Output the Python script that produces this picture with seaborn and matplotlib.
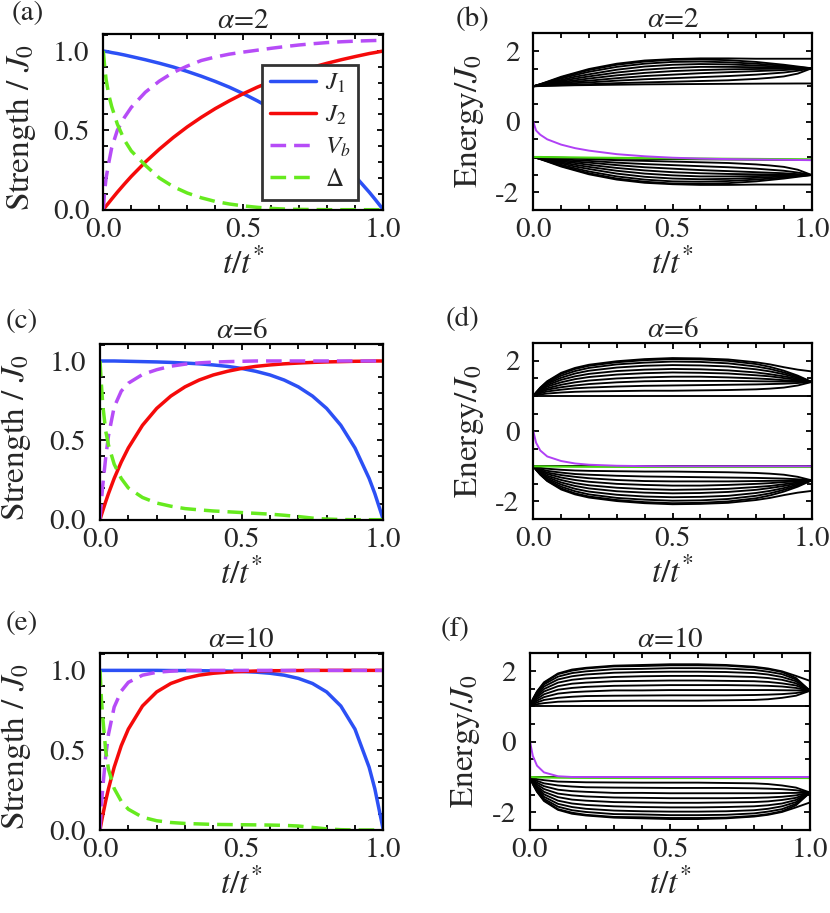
import matplotlib
matplotlib.use("Agg")
import matplotlib.pyplot as plt
import seaborn as sns
import pandas as pd
from matplotlib.ticker import MultipleLocator, FormatStrFormatter

# ---------------- data ----------------
tS = [0, 0.005, 0.01, 0.02, 0.03, 0.05, 0.075, 0.1, 0.15, 0.2, 0.25, 0.3, 0.35,
      0.4, 0.45, 0.5, 0.55, 0.6, 0.65, 0.7, 0.75, 0.8, 0.85, 0.9, 0.95, 0.97, 1.0]

# alpha = 2
J1_a2 = [1.0, 0.998, 0.997, 0.994, 0.990, 0.984, 0.975, 0.965, 0.945, 0.923, 0.899, 0.871, 0.841,
         0.808, 0.772, 0.731, 0.686, 0.637, 0.582, 0.522, 0.455, 0.381, 0.300, 0.210, 0.110, 0.067, 0.0]
J2_a2 = [0.0, 0.012, 0.023, 0.045, 0.067, 0.110, 0.161, 0.210, 0.300, 0.381, 0.455, 0.522, 0.582,
         0.637, 0.686, 0.731, 0.772, 0.808, 0.841, 0.871, 0.899, 0.923, 0.945, 0.965, 0.984, 0.990, 1.0]
Vb_a2 = [0.0, 0.12, 0.20, 0.30, 0.39, 0.50, 0.58, 0.645, 0.74, 0.81, 0.865, 0.905, 0.94,
         0.962, 0.98, 0.993, 1.005, 1.017, 1.028, 1.038, 1.046, 1.053, 1.058, 1.062, 1.065, 1.066, 1.067]
D_a2 = [1.0, 0.90, 0.82, 0.72, 0.65, 0.54, 0.44, 0.37, 0.28, 0.20, 0.145, 0.105, 0.075,
        0.052, 0.036, 0.024, 0.015, 0.008, 0.004, 0.002, 0.001, 0.0, 0.0, 0.0, 0.0, 0.0, 0.0]

# alpha = 6
J1_a6 = [1.0, 1.0, 1.0, 1.0, 1.0, 1.0, 0.999, 0.998, 0.996, 0.994, 0.991, 0.987, 0.982,
         0.975, 0.966, 0.953, 0.935, 0.912, 0.880, 0.837, 0.779, 0.701, 0.595, 0.452, 0.260, 0.165, 0.0]
J2_a6 = [0.0, 0.030, 0.058, 0.113, 0.165, 0.260, 0.363, 0.452, 0.595, 0.701, 0.779, 0.837, 0.880,
         0.912, 0.935, 0.953, 0.966, 0.975, 0.982, 0.987, 0.991, 0.994, 0.996, 0.998, 0.999, 1.0, 1.0]
Vb_a6 = [0.0, 0.12, 0.22, 0.39, 0.53, 0.71, 0.81, 0.86, 0.915, 0.945, 0.967, 0.98, 0.988,
         0.993, 0.996, 0.998, 1.0, 1.0, 1.0, 1.0, 1.0, 1.0, 1.0, 1.0, 1.0, 1.0, 1.0]
D_a6 = [1.0, 0.85, 0.72, 0.56, 0.47, 0.35, 0.26, 0.20, 0.14, 0.105, 0.085, 0.07, 0.062,
        0.055, 0.05, 0.045, 0.04, 0.035, 0.028, 0.02, 0.01, 0.004, 0.001, 0.0, 0.0, 0.0, 0.0]

# alpha = 10
J1_a10 = [1.0, 1.0, 1.0, 1.0, 1.0, 1.0, 1.0, 1.0, 1.0, 1.0, 0.999, 0.999, 0.998,
          0.997, 0.996, 0.993, 0.989, 0.982, 0.970, 0.950, 0.918, 0.865, 0.777, 0.632, 0.393, 0.259, 0.0]
J2_a10 = [0.0, 0.049, 0.095, 0.181, 0.259, 0.393, 0.528, 0.632, 0.777, 0.865, 0.918, 0.950, 0.970,
          0.982, 0.989, 0.993, 0.996, 0.998, 0.998, 0.999, 1.0, 1.0, 1.0, 1.0, 1.0, 1.0, 1.0]
Vb_a10 = [0.0, 0.15, 0.27, 0.46, 0.60, 0.77, 0.87, 0.925, 0.97, 0.988, 0.995, 1.0, 1.0,
          1.0, 1.0, 1.0, 1.0, 1.0, 1.0, 1.0, 1.0, 1.0, 1.0, 1.0, 1.0, 1.0, 1.0]
D_a10 = [1.0, 0.82, 0.70, 0.50, 0.38, 0.26, 0.18, 0.13, 0.08, 0.058, 0.047, 0.041, 0.038,
         0.035, 0.034, 0.033, 0.032, 0.031, 0.029, 0.025, 0.016, 0.007, 0.002, 0.0, 0.0, 0.0, 0.0]

# energy levels (upper band; lower band is its mirror image E -> -E)
tE = [0, 0.01, 0.025, 0.05, 0.1, 0.15, 0.2, 0.3, 0.4, 0.5, 0.6, 0.7, 0.8, 0.85, 0.9, 0.95, 1.0]

band_a2 = [
    [1.0, 1.025, 1.06, 1.13, 1.27, 1.38, 1.49, 1.64, 1.73, 1.77, 1.79, 1.79, 1.78, 1.78, 1.78, 1.78, 1.78],
    [1.0, 1.024, 1.058, 1.12, 1.25, 1.36, 1.46, 1.61, 1.70, 1.75, 1.76, 1.74, 1.69, 1.65, 1.61, 1.56, 1.51],
    [1.0, 1.022, 1.055, 1.11, 1.22, 1.32, 1.41, 1.55, 1.64, 1.69, 1.70, 1.68, 1.64, 1.61, 1.58, 1.54, 1.51],
    [1.0, 1.02, 1.05, 1.09, 1.18, 1.27, 1.34, 1.47, 1.56, 1.61, 1.63, 1.62, 1.59, 1.57, 1.55, 1.53, 1.51],
    [1.0, 1.018, 1.045, 1.08, 1.15, 1.22, 1.28, 1.39, 1.47, 1.52, 1.55, 1.55, 1.54, 1.53, 1.52, 1.515, 1.51],
    [1.0, 1.015, 1.035, 1.06, 1.12, 1.17, 1.22, 1.31, 1.38, 1.43, 1.46, 1.48, 1.49, 1.495, 1.50, 1.505, 1.51],
    [1.0, 1.012, 1.028, 1.05, 1.09, 1.13, 1.16, 1.23, 1.29, 1.33, 1.37, 1.40, 1.43, 1.445, 1.46, 1.485, 1.51],
    [1.0, 1.009, 1.02, 1.035, 1.06, 1.09, 1.11, 1.16, 1.20, 1.23, 1.26, 1.29, 1.33, 1.36, 1.39, 1.44, 1.51],
    [1.0, 1.005, 1.012, 1.02, 1.035, 1.05, 1.06, 1.09, 1.11, 1.13, 1.15, 1.17, 1.21, 1.24, 1.28, 1.36, 1.51],
    [1.0, 1.003, 1.007, 1.012, 1.02, 1.03, 1.035, 1.045, 1.055, 1.06, 1.065, 1.07, 1.075, 1.077, 1.078, 1.08, 1.08],
]
band_a6 = [
    [1.0, 1.10, 1.24, 1.42, 1.66, 1.80, 1.89, 1.99, 2.05, 2.08, 2.07, 2.04, 1.96, 1.90, 1.82, 1.75, 1.70],
    [1.0, 1.10, 1.23, 1.41, 1.63, 1.77, 1.86, 1.96, 2.02, 2.05, 2.04, 2.00, 1.91, 1.83, 1.72, 1.58, 1.40],
    [1.0, 1.09, 1.21, 1.38, 1.58, 1.71, 1.80, 1.90, 1.95, 1.98, 1.97, 1.93, 1.84, 1.77, 1.67, 1.55, 1.40],
    [1.0, 1.085, 1.20, 1.35, 1.52, 1.64, 1.72, 1.81, 1.86, 1.88, 1.87, 1.84, 1.76, 1.70, 1.62, 1.52, 1.40],
    [1.0, 1.08, 1.18, 1.31, 1.46, 1.56, 1.63, 1.71, 1.75, 1.77, 1.76, 1.73, 1.67, 1.62, 1.56, 1.49, 1.40],
    [1.0, 1.07, 1.16, 1.27, 1.39, 1.48, 1.54, 1.61, 1.65, 1.67, 1.66, 1.64, 1.59, 1.56, 1.51, 1.46, 1.40],
    [1.0, 1.06, 1.14, 1.22, 1.32, 1.39, 1.44, 1.50, 1.53, 1.55, 1.55, 1.53, 1.50, 1.48, 1.45, 1.43, 1.40],
    [1.0, 1.05, 1.11, 1.18, 1.25, 1.30, 1.34, 1.39, 1.42, 1.43, 1.43, 1.43, 1.42, 1.415, 1.41, 1.405, 1.40],
    [1.0, 1.04, 1.08, 1.13, 1.18, 1.22, 1.24, 1.27, 1.29, 1.30, 1.31, 1.32, 1.33, 1.34, 1.35, 1.37, 1.40],
    [1.0, 1.02, 1.045, 1.07, 1.10, 1.12, 1.13, 1.14, 1.15, 1.15, 1.16, 1.17, 1.19, 1.21, 1.24, 1.30, 1.40],
    [1.0, 1.0, 1.0, 1.0, 1.0, 1.0, 1.0, 1.0, 1.0, 1.0, 1.0, 1.0, 1.0, 1.0, 1.0, 1.0, 1.0],
]
band_a10 = [
    [1.0, 1.20, 1.42, 1.68, 1.93, 2.04, 2.09, 2.15, 2.17, 2.19, 2.19, 2.17, 2.12, 2.07, 1.99, 1.86, 1.72],
    [1.0, 1.20, 1.41, 1.66, 1.91, 2.01, 2.07, 2.13, 2.14, 2.16, 2.16, 2.15, 2.10, 2.05, 1.97, 1.80, 1.44],
    [1.0, 1.18, 1.38, 1.62, 1.84, 1.94, 1.99, 2.05, 2.06, 2.08, 2.08, 2.07, 2.03, 1.98, 1.91, 1.76, 1.44],
    [1.0, 1.17, 1.34, 1.56, 1.76, 1.85, 1.90, 1.95, 1.97, 1.98, 1.98, 1.97, 1.94, 1.90, 1.83, 1.71, 1.44],
    [1.0, 1.15, 1.30, 1.49, 1.67, 1.75, 1.79, 1.83, 1.85, 1.86, 1.86, 1.85, 1.83, 1.80, 1.75, 1.65, 1.44],
    [1.0, 1.12, 1.26, 1.42, 1.57, 1.64, 1.67, 1.71, 1.72, 1.73, 1.73, 1.72, 1.71, 1.69, 1.65, 1.59, 1.44],
    [1.0, 1.10, 1.21, 1.34, 1.47, 1.52, 1.55, 1.58, 1.59, 1.60, 1.60, 1.60, 1.59, 1.58, 1.56, 1.52, 1.44],
    [1.0, 1.08, 1.16, 1.26, 1.36, 1.40, 1.42, 1.45, 1.45, 1.46, 1.46, 1.46, 1.46, 1.46, 1.455, 1.45, 1.44],
    [1.0, 1.05, 1.11, 1.18, 1.24, 1.27, 1.29, 1.30, 1.305, 1.31, 1.31, 1.31, 1.32, 1.33, 1.345, 1.375, 1.44],
    [1.0, 1.03, 1.06, 1.09, 1.13, 1.14, 1.15, 1.155, 1.16, 1.16, 1.16, 1.17, 1.18, 1.20, 1.24, 1.30, 1.44],
    [1.0, 1.0, 1.0, 1.0, 1.0, 1.0, 1.0, 1.0, 1.0, 1.0, 1.0, 1.0, 1.0, 1.0, 1.0, 1.0, 1.0],
]

# isolated levels (purple: starts at 0; green: near -1)
Pu_a2 = [0.0, -0.25, -0.37, -0.50, -0.65, -0.75, -0.82, -0.92, -0.98, -1.02, -1.045, -1.06, -1.07, -1.075, -1.08, -1.085, -1.09]
Pu_a6 = [0.0, -0.33, -0.55, -0.72, -0.85, -0.92, -0.955, -0.985, -0.995, -1.0, -1.0, -1.0, -1.0, -1.0, -1.0, -1.0, -1.0]
Pu_a10 = [0.0, -0.40, -0.68, -0.87, -0.98, -1.0, -1.0, -1.0, -1.0, -1.0, -1.0, -1.0, -1.0, -1.0, -1.0, -1.0, -1.0]
Gr_a2 = [-1.0, -1.0, -1.0, -1.003, -1.008, -1.012, -1.017, -1.025, -1.032, -1.038, -1.044, -1.05, -1.055, -1.058, -1.06, -1.063, -1.066]
Gr_a6 = [-1.0, -1.0, -1.002, -1.005, -1.01, -1.013, -1.015, -1.018, -1.02, -1.02, -1.02, -1.02, -1.02, -1.02, -1.02, -1.02, -1.02]
Gr_a10 = [-1.0, -1.003, -1.008, -1.013, -1.02, -1.024, -1.026, -1.028, -1.03, -1.03, -1.03, -1.03, -1.03, -1.03, -1.03, -1.03, -1.03]

alphas = ["2", "6", "10"]
panel_letters = ["(a)", "(b)", "(c)", "(d)", "(e)", "(f)"]
legend_labels = [r"$J_1$", r"$J_2$", r"$V_b$", r"$\Delta$"]

# ---------------- style ----------------
sns.set_style("ticks")
plt.rcParams["font.family"] = ["STIXGeneral", "Liberation Serif", "DejaVu Serif"]
plt.rcParams["mathtext.fontset"] = "stix"
plt.rcParams["axes.unicode_minus"] = False
plt.rcParams["axes.linewidth"] = 1.5
plt.rcParams["axes.edgecolor"] = "black"

C_J1, C_J2, C_VB, C_D = "#2c50f5", "#f50a0a", "#b64cf7", "#66ea1e"
C_PU, C_GR = "#b040f5", "#48d810"
DASH = (0, (4.5, 2.3))

fig = plt.figure(figsize=(8.3, 9.13), dpi=100)
W, H = 830.0, 913.0


def add_ax(l, t, r, b):
    return fig.add_axes([l / W, 1 - b / H, (r - l) / W, (b - t) / H])


def style_axes(ax, energy):
    ax.set_xlim(0, 1)
    ax.xaxis.set_major_locator(MultipleLocator(0.5))
    ax.xaxis.set_minor_locator(MultipleLocator(0.1))
    ax.xaxis.set_major_formatter(FormatStrFormatter("%.1f"))
    if energy:
        ax.set_ylim(-2.5, 2.5)
        ax.yaxis.set_major_locator(MultipleLocator(2))
        ax.yaxis.set_minor_locator(MultipleLocator(0.5))
        ax.yaxis.set_major_formatter(FormatStrFormatter("%d"))
    else:
        ax.set_ylim(0, 1.107)
        ax.yaxis.set_major_locator(MultipleLocator(0.5))
        ax.yaxis.set_minor_locator(MultipleLocator(0.1))
        ax.yaxis.set_major_formatter(FormatStrFormatter("%.1f"))
    ax.tick_params(which="both", direction="in", top=True, right=True, width=1.3, color="black")
    ax.tick_params(which="major", length=4.5, labelsize=21)
    ax.tick_params(which="minor", length=3.5)
    ax.tick_params(axis="x", which="major", pad=6)
    ax.tick_params(axis="y", which="major", pad=10)
    for s in ax.spines.values():
        s.set_linewidth(1.6)
        s.set_color("black")
    ax.set_xlabel(r"$t/t^{*}$", fontsize=24)


def strength_panel(ax, J1, J2, Vb, D, alpha, show_legend):
    series = [(J1, C_J1, "-"), (J2, C_J2, "-"), (Vb, C_VB, DASH), (D, C_D, DASH)]
    for (vals, col, ls), lab in zip(series, legend_labels):
        kw = dict(label=lab) if show_legend else {}
        sns.lineplot(x=tS, y=vals, ax=ax, color=col, lw=2.5, linestyle=ls,
                     legend=False, **kw)
    style_axes(ax, energy=False)
    ax.set_title(r"$\alpha$=" + alpha, fontsize=21, pad=4)
    ax.set_ylabel(r"Strength / $J_0$", fontsize=24)
    if show_legend:
        leg = ax.legend(loc="upper left", bbox_to_anchor=(0.567, 0.826), fontsize=18,
                        frameon=True, fancybox=False, framealpha=1, edgecolor="#333333",
                        handlelength=1.85, handletextpad=0.35, labelspacing=0.32,
                        borderpad=0.3, borderaxespad=0)
        leg.get_frame().set_linewidth(2.0)


def energy_panel(ax, band, Pu, Gr, alpha):
    recs = []
    for i, line in enumerate(band):
        for t, e in zip(tE, line):
            recs.append((t, e, "u%d" % i))
            recs.append((t, -e, "l%d" % i))
    df = pd.DataFrame(recs, columns=["t", "E", "level"])
    sns.lineplot(data=df, x="t", y="E", units="level", estimator=None, color="black",
                 lw=1.35, ax=ax, legend=False)
    sns.lineplot(x=tE, y=Gr, ax=ax, color=C_GR, lw=1.5, legend=False)
    sns.lineplot(x=tE, y=Pu, ax=ax, color=C_PU, lw=1.4, legend=False)
    style_axes(ax, energy=True)
    ax.set_title(r"$\alpha$=" + alpha, fontsize=21, pad=4)
    ax.set_ylabel(r"Energy/$J_0$", fontsize=24)


ax_a = add_ax(103.3, 34, 383.3, 209.7)
ax_b = add_ax(533.3, 33.3, 811.7, 210)
ax_c = add_ax(100, 344, 383.3, 519.7)
ax_d = add_ax(533.3, 343.3, 811.7, 519)
ax_e = add_ax(100, 653.3, 383.3, 830)
ax_f = add_ax(530, 653.3, 810, 830)

strength_panel(ax_a, J1_a2, J2_a2, Vb_a2, D_a2, alphas[0], True)
strength_panel(ax_c, J1_a6, J2_a6, Vb_a6, D_a6, alphas[1], False)
strength_panel(ax_e, J1_a10, J2_a10, Vb_a10, D_a10, alphas[2], False)
energy_panel(ax_b, band_a2, Pu_a2, Gr_a2, alphas[0])
energy_panel(ax_d, band_a6, Pu_a6, Gr_a6, alphas[1])
energy_panel(ax_f, band_a10, Pu_a10, Gr_a10, alphas[2])

for ax in (ax_a, ax_c, ax_e):
    ax.yaxis.set_label_coords(-0.235, 0.47)
    ax.xaxis.set_label_coords(0.5, -0.215)
for ax in (ax_b, ax_d, ax_f):
    ax.yaxis.set_label_coords(-0.17, 0.5)
    ax.xaxis.set_label_coords(0.5, -0.215)

# panel letters
letter_pos = [(12, 1), (456, 7), (6, 309), (446, 307), (6, 611), (441, 617)]
for (x, y), s in zip(letter_pos, panel_letters):
    fig.text(x / W, 1 - y / H, s, fontsize=21, ha="left", va="top")

fig.savefig("out.png", dpi=100)
